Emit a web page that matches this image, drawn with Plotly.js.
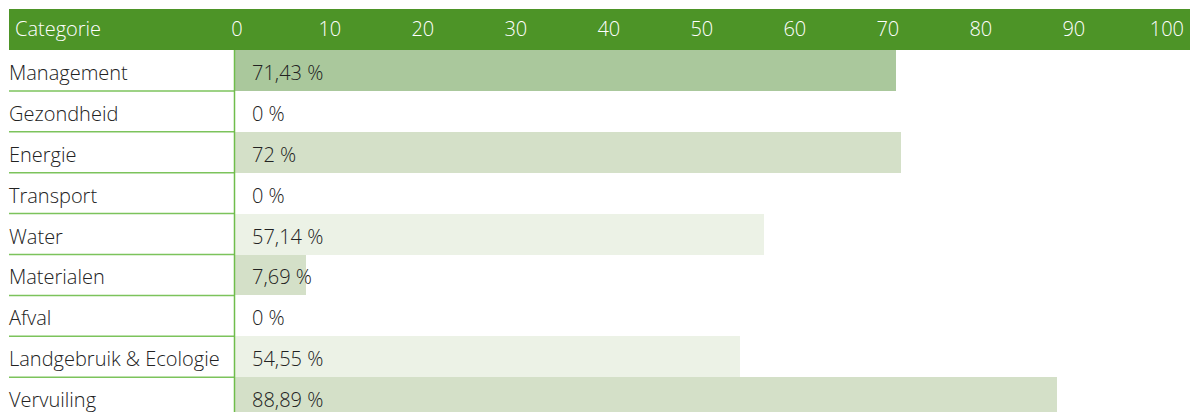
<!DOCTYPE html>
<html>
<head>
<meta charset="utf-8">
<script src="https://cdn.plot.ly/plotly-3.0.1.min.js"></script>
<style>
html,body{margin:0;padding:0;background:#fff;}
#chart{width:1190px;height:412px;}
</style>
</head>
<body>
<div id="chart"></div>
<script>
const categories = ["Management","Gezondheid","Energie","Transport","Water","Materialen","Afval","Landgebruik & Ecologie","Vervuiling"];
const values = [71.43, 0, 72, 0, 57.14, 7.69, 0, 54.55, 88.89];
const valueLabels = ["71,43 %","0 %","72 %","0 %","57,14 %","7,69 %","0 %","54,55 %","88,89 %"];
const barColors = ["#aac89c","#d4e0c8","#d4e0c8","#d4e0c8","#ecf2e6","#d4e0c8","#d4e0c8","#ecf2e6","#d4e0c8"];
const tickValues = [0,10,20,30,40,50,60,70,80,90,100];
const tickLabels = ["0","10","20","30","40","50","60","70","80","90","100"];
const headerLabel = "Categorie";

const W = 1190, H = 412;
const FONT = "Open Sans, Noto Sans, sans-serif";
const FS = 20;
const leftPx = 235;
const rowsVisible = (H - 50) / 40.9;

const bar = {
  type: "bar",
  orientation: "h",
  x: values,
  y: categories,
  marker: {color: barColors, line: {width: 0}},
  hoverinfo: "skip",
  xaxis: "x", yaxis: "y"
};
const tickTrace = {
  type: "scatter", mode: "markers",
  x: tickValues, y: tickValues.map(() => categories[0]),
  marker: {opacity: 0}, hoverinfo: "skip", showlegend: false,
  xaxis: "x2", yaxis: "y"
};

const annotations = [];
categories.forEach((c, i) => {
  annotations.push({xref: "paper", yref: "y", x: 7 / W, y: c, xanchor: "left", yanchor: "middle",
    text: c, showarrow: false, font: {family: FONT, size: FS, color: "#222", weight: 300}, yshift: -2});
  annotations.push({xref: "x", yref: "y", x: 0, y: c, xanchor: "left", yanchor: "middle", xshift: 15,
    text: valueLabels[i], showarrow: false, font: {family: FONT, size: FS, color: "#222", weight: 300}, yshift: -2});
});
annotations.push({xref: "paper", yref: "paper", x: 13 / W, y: 1 + 21 / 362, xanchor: "left", yanchor: "middle",
  text: headerLabel, showarrow: false, font: {family: FONT, size: FS, color: "#ffffff", weight: 300}});

const shapes = [
  {type: "rect", xref: "paper", yref: "paper", x0: 9 / W, x1: 1, y0: 1, y1: 1 + 41 / 362,
   fillcolor: "#4d9427", line: {width: 0}, layer: "below"}
];
for (let i = 0; i < categories.length - 1; i++) {
  shapes.push({type: "line", xref: "paper", yref: "y", x0: 9 / W, x1: leftPx / W, y0: i + 0.5, y1: i + 0.5,
    line: {color: "#7cc35c", width: 1.5}});
}
shapes.push({type: "line", xref: "paper", yref: "paper", x0: (leftPx - 0.5) / W, x1: (leftPx - 0.5) / W, y0: 0, y1: 1,
  line: {color: "#6fbd4b", width: 1.5}});

const plotW = W - leftPx;
const labelScale = 9.3;
const layout = {
  width: W, height: H,
  margin: {l: 0, r: 0, t: 50, b: 0, pad: 0},
  paper_bgcolor: "#ffffff", plot_bgcolor: "#ffffff",
  showlegend: false,
  bargap: 0,
  xaxis: {domain: [leftPx / W, 1], range: [0, plotW / 9.25], showgrid: false, zeroline: false,
    showticklabels: false, ticks: "", showline: false, fixedrange: true},
  xaxis2: {overlaying: "x", side: "top", anchor: "y", range: [-0.2, -0.2 + plotW / labelScale],
    tickvals: tickValues, ticktext: tickLabels, showgrid: false, zeroline: false, ticks: "",
    tickfont: {family: FONT, size: FS, color: "#ffffff", weight: 300}, ticklabelstandoff: 9, fixedrange: true},
  yaxis: {type: "category", categoryorder: "array", categoryarray: categories,
    range: [rowsVisible - 0.5, -0.5], showticklabels: false, showgrid: false, zeroline: false, ticks: "", fixedrange: true},
  annotations: annotations,
  shapes: shapes
};

Plotly.newPlot("chart", [bar, tickTrace], layout, {displayModeBar: false, staticPlot: true});
</script>
</body>
</html>
